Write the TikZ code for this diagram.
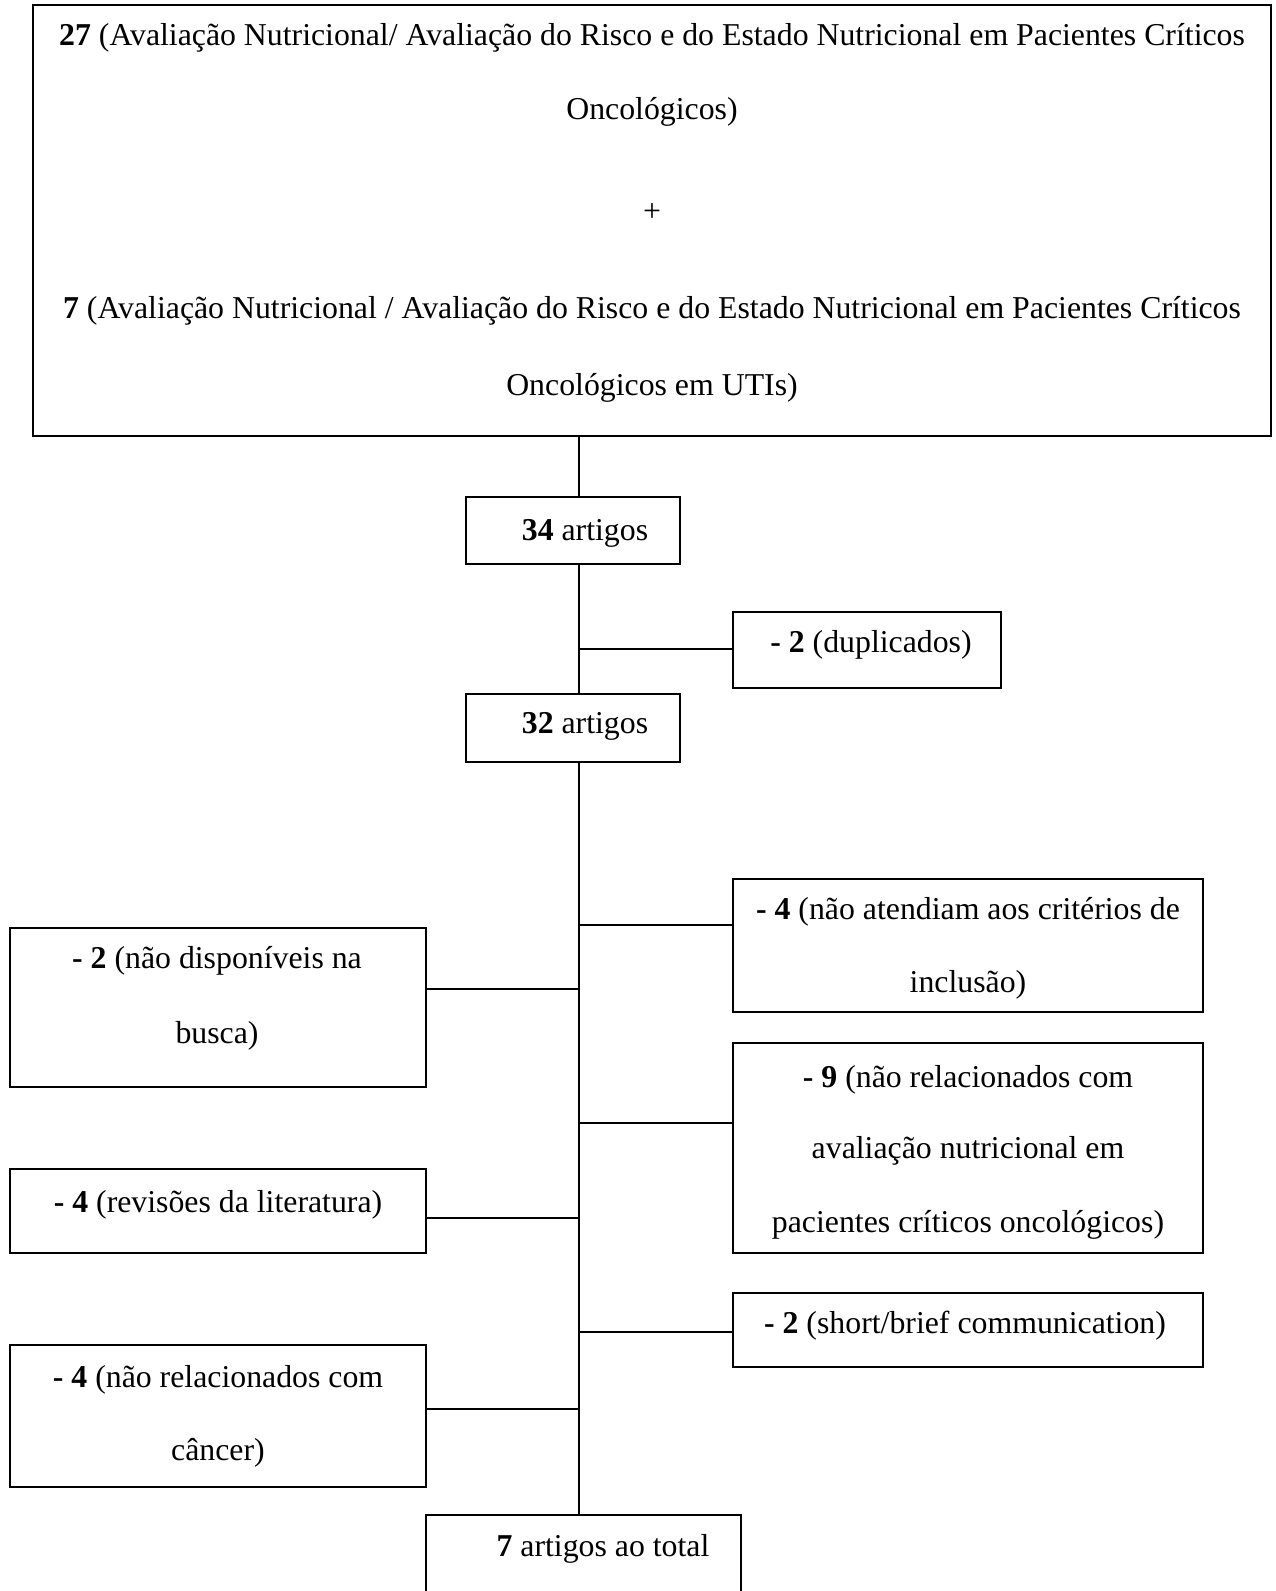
\documentclass[tikz,border=0pt]{standalone}
\usepackage{fontspec}
\setmainfont{Liberation Serif}
\begin{document}
\begin{tikzpicture}[x=1pt,y=-1pt,
  box/.style={draw,line width=2.4pt,fill=white,inner sep=0pt,rectangle},
  txt/.style={anchor=base,inner sep=0pt,font=\fontsize{31.8}{38}\selectfont},
  link/.style={line width=2pt}]
\clip (0,0) rectangle (1275,1591);
\fill[white] (0,0) rectangle (1275,1591);
\coordinate (tr) at (579,0);
% boxes
\node[box,minimum width=1238pt,minimum height=431pt] (top) at (652,220.5) {};
\node[box,minimum width=214pt,minimum height=67pt] (b34) at (573,530.5) {};
\node[box,minimum width=268pt,minimum height=76pt] (bdup) at (867,650) {};
\node[box,minimum width=214pt,minimum height=68pt] (b32) at (573,728) {};
\node[box,minimum width=470pt,minimum height=133pt] (bcrit) at (968,945.5) {};
\node[box,minimum width=416pt,minimum height=159pt] (bdisp) at (218,1007.5) {};
\node[box,minimum width=470pt,minimum height=210pt] (b9) at (968,1148) {};
\node[box,minimum width=416pt,minimum height=84pt] (brev) at (218,1211) {};
\node[box,minimum width=470pt,minimum height=74pt] (bshort) at (968,1330) {};
\node[box,minimum width=416pt,minimum height=142pt] (bcanc) at (218,1416) {};
\node[box,minimum width=315pt,minimum height=125pt] (bfinal) at (583.5,1577.5) {};
% trunk
\draw[link] (top.south -| tr) -- (b34.north -| tr);
\draw[link] (b34.south -| tr) -- (b32.north -| tr);
\draw[link] (b32.south -| tr) -- (bfinal.north -| tr);
% junctions
\coordinate (jdup) at (579,649);
\coordinate (jcrit) at (579,925);
\coordinate (jdisp) at (579,989);
\coordinate (j9) at (579,1123);
\coordinate (jrev) at (579,1218);
\coordinate (jshort) at (579,1332);
\coordinate (jcanc) at (579,1409);
\draw[link] (jdup) -- (jdup -| bdup.west);
\draw[link] (jcrit) -- (jcrit -| bcrit.west);
\draw[link] (jdisp) -- (jdisp -| bdisp.east);
\draw[link] (j9) -- (j9 -| b9.west);
\draw[link] (jrev) -- (jrev -| brev.east);
\draw[link] (jshort) -- (jshort -| bshort.west);
\draw[link] (jcanc) -- (jcanc -| bcanc.east);
% texts
\node[txt] (t1) at (652,45) {\textbf{27} (Avaliação Nutricional/ Avaliação do Risco e do Estado Nutricional em Pacientes Críticos};
\node[txt] (t2) at (652,119) {Oncológicos)};
\node[txt] (t3) at (652,221) {+};
\node[txt] (t4) at (652,318) {\textbf{7} (Avaliação Nutricional / Avaliação do Risco e do Estado Nutricional em Pacientes Críticos};
\node[txt] (t5) at (652,395) {Oncológicos em UTIs)};
\node[txt] (t34) at (585,540) {\textbf{34} artigos};
\node[txt] (tdup) at (871,652) {\textbf{- 2} (duplicados)};
\node[txt] (t32) at (585,733) {\textbf{32} artigos};
\node[txt] (tcrit1) at (968,919) {\textbf{- 4} (não atendiam aos critérios de};
\node[txt] (tcrit2) at (968,992) {inclusão)};
\node[txt] (tdisp1) at (217,968) {\textbf{- 2} (não disponíveis na};
\node[txt] (tdisp2) at (217,1043) {busca)};
\node[txt] (t91) at (968,1087) {\textbf{- 9} (não relacionados com};
\node[txt] (t92) at (968,1158) {avaliação nutricional em};
\node[txt] (t93) at (968,1232) {pacientes críticos oncológicos)};
\node[txt] (trev) at (218,1212) {\textbf{- 4} (revisões da literatura)};
\node[txt] (tshort) at (965,1333) {\textbf{- 2} (short/brief communication)};
\node[txt] (tcanc1) at (218,1387) {\textbf{- 4} (não relacionados com};
\node[txt] (tcanc2) at (218,1460) {câncer)};
\node[txt] (tfinal) at (603,1556) {\textbf{7} artigos ao total};
\end{tikzpicture}
\end{document}
